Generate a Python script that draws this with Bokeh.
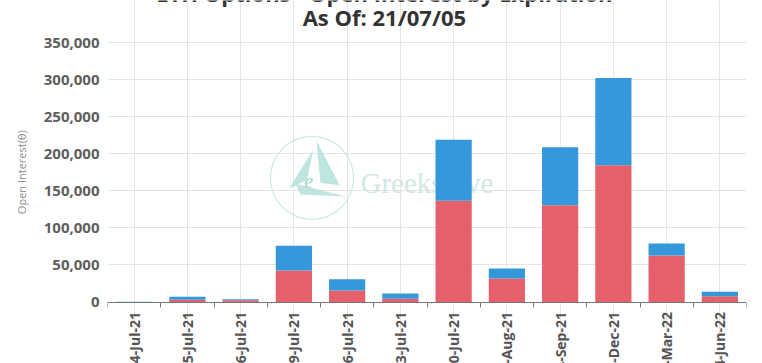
import math
from bokeh.plotting import figure
from bokeh.models import (FactorRange, Range1d, LinearAxis, CategoricalAxis, FixedTicker,
                          NumeralTickFormatter, Label, ColumnDataSource)
from bokeh.core.properties import value
from bokeh.embed import file_html
from bokeh.resources import INLINE

# ---------------- data ----------------
expirations = ["04-Jul-21", "05-Jul-21", "06-Jul-21", "09-Jul-21", "16-Jul-21",
               "23-Jul-21", "30-Jul-21", "27-Aug-21", "24-Sep-21", "31-Dec-21",
               "25-Mar-22", "24-Jun-22"]
calls_oi = [100, 3000, 2400, 42500, 15500, 4300, 136700, 31700, 130400, 184400, 62800, 7800]
puts_oi = [80, 4000, 1400, 33500, 15300, 7200, 82300, 13600, 78400, 117600, 16200, 6000]
y_ticks = [0, 50000, 100000, 150000, 200000, 250000, 300000, 350000]

title_line1 = "ETH Options - Open Interest by Expiration"
title_line2 = "As Of: 21/07/05"
y_label = "Open Interest(\u03b8)"

RED = "#e5606a"
BLUE = "#3498db"
FONT = "Open Sans"

# ---------------- layout geometry (pixels) ----------------
W, H = 762, 363
PLOT_TOP_PX = 42        # space above the 350,000 line (title area)
PLOT_BOTTOM_PX = 61.5   # space below the 0 line (category labels)
plot_px = H - PLOT_TOP_PX - PLOT_BOTTOM_PX
per_px = y_ticks[-1] / plot_px
y_start = -PLOT_BOTTOM_PX * per_px
y_end = y_ticks[-1] + PLOT_TOP_PX * per_px

# ---------------- figure ----------------
p = figure(x_range=FactorRange(factors=expirations, range_padding=0),
           y_range=Range1d(y_start, y_end),
           width=W, height=H,
           min_border_top=0, min_border_left=107, min_border_right=16,
           min_border_bottom=0,
           x_axis_location=None,
           output_backend="svg", toolbar_location=None)
p.outline_line_color = None
p.background_fill_color = "white"
p.border_fill_color = "white"

# y axis & grid
p.yaxis.ticker = FixedTicker(ticks=y_ticks)
p.yaxis.formatter = NumeralTickFormatter(format="0,0")
p.yaxis.axis_line_color = None
p.yaxis.major_tick_line_color = None
p.yaxis.minor_tick_line_color = None
p.yaxis.major_tick_out = 0
p.yaxis.major_tick_in = 0
p.yaxis.major_label_standoff = 8
p.yaxis.major_label_text_font = FONT
p.yaxis.major_label_text_font_size = "15px"
p.yaxis.major_label_text_font_style = "bold"
p.yaxis.major_label_text_color = "#5e5e5e"
p.ygrid.ticker = FixedTicker(ticks=y_ticks)
p.ygrid.grid_line_color = "#e4e4e4"

# x axis: boundary ticks + category labels, both pinned to y = 0
tick_axis = LinearAxis(ticker=FixedTicker(ticks=list(range(len(expirations) + 1))),
                       fixed_location=0)
tick_axis.axis_line_color = "#777777"
tick_axis.major_tick_line_color = "#777777"
tick_axis.major_tick_out = 5
tick_axis.major_tick_in = 0
tick_axis.minor_tick_line_color = None
tick_axis.major_label_text_alpha = 0
tick_axis.major_label_text_font_size = "1px"
p.add_layout(tick_axis, "below")

cat_axis = CategoricalAxis(fixed_location=0)
cat_axis.axis_line_color = None
cat_axis.major_tick_line_color = None
cat_axis.minor_tick_line_color = None
cat_axis.major_tick_out = 0
cat_axis.major_tick_in = 0
cat_axis.major_label_standoff = 10
cat_axis.major_label_orientation = math.pi / 2
cat_axis.major_label_text_font = FONT
cat_axis.major_label_text_font_size = "14px"
cat_axis.major_label_text_font_style = "bold"
cat_axis.major_label_text_color = "#555555"
p.add_layout(cat_axis, "below")

# ---------------- watermark (decoration) ----------------
wm_color = "#b3e0d9"
p.circle(x=[3.84], y=[167400], radius=41.5, radius_units="screen",
         fill_color=None, line_color="#cdeae6", line_width=1.2)
p.patches(xs=[[3.405, 3.863, 3.750], [3.925, 4.362, 4.000], [3.530, 4.469, 3.624]],
          ys=[[152850, 205500, 165000], [217100, 157300, 160400], [159600, 142450, 145150]],
          fill_color=wm_color, fill_alpha=0.85, line_color=None)
p.text(x=[3.78], y=[163000], text=["e"], text_font=value("Liberation Serif"),
       text_font_style="italic", text_font_size="20px", text_color="#9fd6cd",
       text_align="center", text_baseline="alphabetic")
p.text(x=[4.751], y=[160000], text=["Greeks.live"], text_font=value("Liberation Serif"),
       text_font_size="29px", text_color="#d2e8e5", text_baseline="alphabetic")

# ---------------- bars ----------------
source = ColumnDataSource(dict(expiration=expirations, calls=calls_oi, puts=puts_oi))
p.vbar_stack(["calls", "puts"], x="expiration", width=0.68, color=[RED, BLUE],
             line_color=None, source=source)

# ---------------- y axis title ----------------
p.add_layout(Label(x=-1.615, y=y_ticks[-1] / 2, text=y_label, angle=math.pi / 2,
                   text_align="center", text_baseline="middle",
                   text_font=FONT, text_font_size="11px", text_color="#8c8c8c"), "left")

# ---------------- title ----------------
p.add_layout(Label(x=5.2, y=y_ticks[-1], y_offset=50,
                   text=title_line1, text_align="center", text_baseline="alphabetic",
                   text_font=FONT, text_font_size="22px", text_font_style="bold",
                   text_color="#333333"))
p.add_layout(Label(x=5.2, y=y_ticks[-1], y_offset=26,
                   text=title_line2, text_align="center", text_baseline="alphabetic",
                   text_font=FONT, text_font_size="22px", text_font_style="bold",
                   text_color="#333333"))

open("out.html", "w").write(file_html(p, INLINE))
